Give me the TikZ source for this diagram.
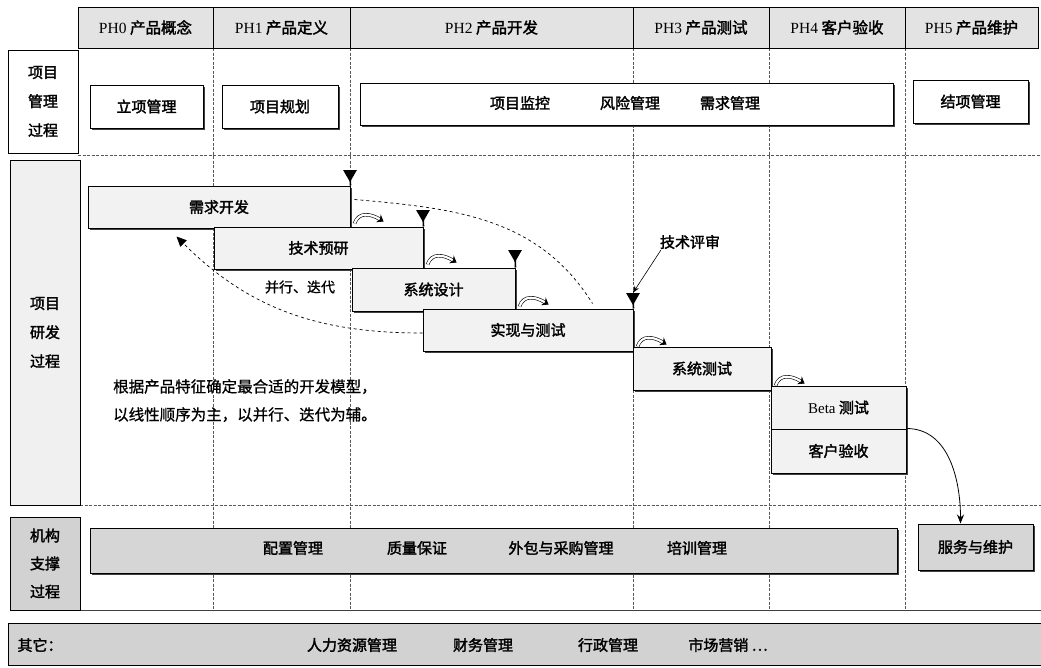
\documentclass[tikz,border=0pt]{standalone}
\usepackage{fontspec}
\setmainfont{Liberation Serif}
\newfontfamily\cjk{Noto Sans CJK SC}[FakeBold=2]
\newfontfamily\cjkr{Noto Sans CJK SC}[FakeBold=0.8]
\usetikzlibrary{shapes.geometric,arrows.meta,calc,shadows}
\tikzset{
  grid/.style={draw=black!65, dash pattern=on 3pt off 1.5pt, line width=0.6pt},
  shd/.style={drop shadow={shadow xshift=2pt,shadow yshift=-2pt,fill=black!75,opacity=1}},
  box/.style={draw=black, line width=1pt, fill=white, inner sep=0pt, shd,
              font=\cjk\fontsize{15}{17}\selectfont},
  stepbox/.style={box, fill=gray!10},
  supbox/.style={box, fill=gray!32},
  hdbox/.style={draw=black, line width=1pt, fill=gray!22, minimum height=41, inner sep=0pt,
                font=\cjk\fontsize{15.5}{17}\selectfont},
  lbl/.style={draw=black, line width=1pt, inner sep=0pt, align=center,
              font=\cjk\fontsize{15}{29}\selectfont},
  txt/.style={font=\cjk\fontsize{15}{17}\selectfont, inner sep=1pt},
  ms/.style={regular polygon, regular polygon sides=3, shape border rotate=180,
             fill=black, inner sep=0pt, minimum size=16pt},
  stepar/.style={draw=black, double=white, double distance=2.2pt, line width=0.6pt,
                 -{Stealth[length=6pt,width=9pt]}},
}
\newcommand\curvyar[1]{\draw[stepar] ($(#1.south east)+(4,5)$) .. controls ($(#1.south east)+(8,17)$) and ($(#1.south east)+(20,15)$) .. ($(#1.south east)+(33,7)$);}
\begin{document}
\begin{tikzpicture}[x=1pt,y=1pt]
\useasboundingbox (0,0) rectangle (1041,-667);
\fill[white] (0,0) rectangle (1041,-667);

% grid lines
\foreach \gx in {213,350,633,769,905} \draw[grid] (\gx,-48) -- (\gx,-610);
\draw[grid] (78,-155) -- (1041,-155);
\draw[grid] (80,-505) -- (1041,-505);
\draw[line width=1pt, black!75] (10,-610) -- (1041,-610);

% header
\node[hdbox, minimum width=135] (h0) at (145.5,-27.5) {{\rmfamily PH0} 产品概念};
\node[hdbox, minimum width=137] (h1) at (281.5,-27.5) {{\rmfamily PH1} 产品定义};
\node[hdbox, minimum width=283] (h2) at (491.5,-27.5) {{\rmfamily PH2} 产品开发};
\node[hdbox, minimum width=136] (h3) at (701,-27.5) {{\rmfamily PH3} 产品测试};
\node[hdbox, minimum width=136] (h4) at (837,-27.5) {{\rmfamily PH4} 客户验收};
\node[hdbox, minimum width=133] (h5) at (971.5,-27.5) {{\rmfamily PH5} 产品维护};

% left labels
\node[lbl, fill=white, minimum width=70, minimum height=103] (l1) at (43,-101.5) {项目\\管理\\过程};
\node[lbl, fill=gray!12, minimum width=70, minimum height=345] (l2) at (45,-332.5) {项目\\研发\\过程};
\node[lbl, fill=gray!35, minimum width=70, minimum height=93, font=\cjk\fontsize{15}{28}\selectfont] (l3) at (45,-563.5) {机构\\支撑\\过程};

% row 1
\node[box, minimum width=113, minimum height=43] (lx) at (146.5,-106.5) {立项管理};
\node[box, minimum width=116, minimum height=43] (gh) at (280,-106.5) {项目规划};
\node[box, minimum width=533, minimum height=42] (jk) at (626.5,-104) {};
\node[txt] (jk1) at (520,-103) {项目监控};
\node[txt] (jk2) at (630,-103) {风险管理};
\node[txt] (jk3) at (730,-103) {需求管理};
\node[box, minimum width=115, minimum height=43] (jx) at (970.5,-101.5) {结项管理};

% row 2 : staircase
\node[stepbox, minimum width=262, minimum height=42] (xq) at (219,-207) {需求开发};
\node[stepbox, minimum width=209, minimum height=42] (js) at (318.5,-248) {技术预研};
\node[stepbox, minimum width=163, minimum height=43] (xt) at (433.5,-289.5) {系统设计};
\node[stepbox, minimum width=210, minimum height=42] (sx) at (528,-330) {实现与测试};
\node[stepbox, minimum width=138, minimum height=43] (st) at (702,-368.5) {系统测试};
\node[stepbox, minimum width=135, minimum height=43] (bt) at (838.5,-407.5) {{\rmfamily Beta} 测试};
\node[stepbox, minimum width=135, minimum height=44] (kh) at (838.5,-451) {客户验收};

% milestones
\draw[line width=1.6pt] (350,-174) -- (xq.north east);
\draw[line width=1.6pt] (423,-214) -- (js.north east);
\draw[line width=1.6pt] (515,-254) -- (xt.north east);
\draw[line width=1.6pt] (633,-297) -- (sx.north east);
\node[ms] (m1) at (350,-174) {};
\node[ms] (m2) at (423,-214) {};
\node[ms] (m3) at (515,-254) {};
\node[ms] (m4) at (633,-297) {};

% step arrows
\curvyar{xq}
\curvyar{js}
\curvyar{xt}
\curvyar{sx}
\curvyar{st}

% dashed iteration arcs
\draw[dashed, line width=0.7pt] ($(xq.north east)+(4,-14)$) to[out=-5,in=122] ($(sx.north east)+(-41,5)$);
\draw[dashed, line width=0.7pt, -{Triangle[length=10pt,width=9pt]}] ($(sx.west)+(0,-3)$) to[out=180,in=-45] ($(xq.south west)+(89,-8)$);
\node[txt, font=\cjkr\fontsize{14}{16}\selectfont] (bx) at (300,-287) {并行、迭代};

% technical review
\node[txt] (ps) at (690,-242) {技术评审};
\draw[line width=0.6pt, -{Stealth[length=7pt,width=5pt]}] ($(ps.south west)+(2,0)$) -- (m4.north);

% explanation
\node[anchor=north west, align=left, inner sep=0pt, font=\cjkr\fontsize{15.5}{28}\selectfont] (expl) at (113,-379)
  {根据产品特征确定最合适的开发模型，\\以线性顺序为主，以并行、迭代为辅。};

% row 3
\node[supbox, minimum width=807, minimum height=45] (pz) at (493.5,-550.5) {};
\node[txt] (pz1) at (293,-548) {配置管理};
\node[txt] (pz2) at (417,-548) {质量保证};
\node[txt] (pz3) at (561,-548) {外包与采购管理};
\node[txt] (pz4) at (697,-548) {培训管理};
\node[supbox, minimum width=115, minimum height=46] (fw) at (975.5,-547) {服务与维护};

\draw[line width=0.8pt, -{Stealth[length=9pt,width=7pt]}] (kh.north east) to[out=0,in=90] ([xshift=-15pt]fw.north);

% others band
\node[draw=black, line width=1pt, fill=gray!35, minimum width=1035, minimum height=42, inner sep=0pt] (qt) at (525.5,-644) {};
\node[txt] (q0) at (40,-645) {其它：};
\node[txt] (q1) at (352,-645) {人力资源管理};
\node[txt] (q2) at (483,-645) {财务管理};
\node[txt] (q3) at (608,-645) {行政管理};
\node[txt] (q4) at (728,-645) {市场营销 \ldots};
\end{tikzpicture}
\end{document}
